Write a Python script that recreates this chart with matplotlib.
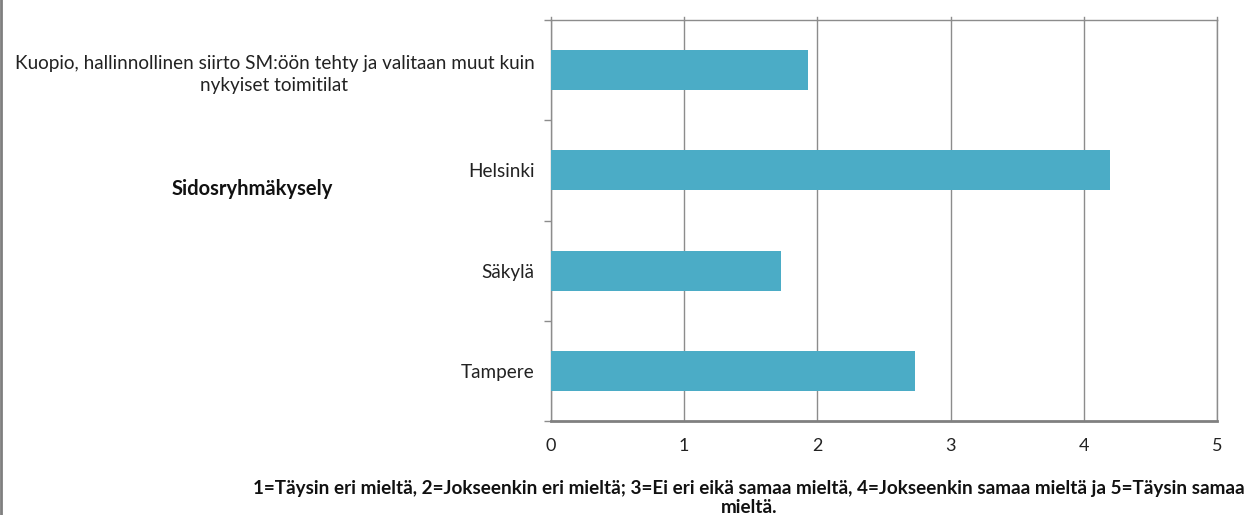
import numpy as np
import matplotlib.pyplot as plt
from matplotlib.lines import Line2D

plt.rcParams['font.family'] = ['Lato', 'DejaVu Sans']

# Data (top to bottom)
categories = ['Kuopio, hallinnollinen siirto SM:öön tehty ja valitaan muut kuin\nnykyiset toimitilat',
              'Helsinki', 'Säkylä', 'Tampere']
values = [1.93, 4.2, 1.73, 2.73]
group_label = 'Sidosryhmäkysely'
xticks = [0, 1, 2, 3, 4, 5]
footnote = ('1=Täysin eri mieltä, 2=Jokseenkin eri mieltä; 3=Ei eri eikä samaa mieltä, '
            '4=Jokseenkin samaa mieltä ja 5=Täysin samaa\nmieltä.')

bar_color = '#4BACC6'
grid_color = '#8c8c8c'

W, H = 1254, 515
fig = plt.figure(figsize=(W / 100, H / 100), dpi=100)
ax = fig.add_axes([551 / W, 1 - 421 / H, (1217 - 551) / W, (421 - 20) / H])

y = np.arange(len(categories))
ax.barh(y, values, height=0.4, color=bar_color, zorder=3)
ax.set_ylim(len(categories) - 0.5, -0.5)
ax.set_xlim(0, 5)

ax.set_xticks(xticks)
ax.set_xticklabels([str(t) for t in xticks], fontsize=13, color='#222222')
ax.tick_params(axis='x', length=0, pad=12)
ax.xaxis.grid(True, color=grid_color, linewidth=1, zorder=0)

# y tick marks at category boundaries, labels at category centres
ax.set_yticks(np.arange(-0.5, len(categories), 1.0))
ax.set_yticklabels([])
ax.tick_params(axis='y', length=5, color=grid_color, width=1)
ax.set_yticks(y, minor=True)
ax.set_yticklabels(categories, minor=True, fontsize=13.6, color='#222222',
                   multialignment='center', linespacing=1.4)
ax.tick_params(axis='y', which='minor', length=0, pad=12)

# small marks above the top edge at each gridline
for t in xticks:
    ax.plot([t, t], [-0.5, -0.53], color=grid_color, lw=1, clip_on=False)

for side in ['top', 'right', 'left']:
    ax.spines[side].set_color(grid_color)
    ax.spines[side].set_linewidth(1)
ax.spines['bottom'].set_color('#808080')
ax.spines['bottom'].set_linewidth(2)

fig.text(252 / W, 1 - 189 / H, group_label, fontsize=14.5, fontweight='bold',
         ha='center', va='center', color='#111111')

fig.text(749 / W, 1 - 498 / H, footnote, fontsize=13.6, fontweight='bold',
         ha='center', va='center', color='#111111', linespacing=1.15)

# image border at the left edge
fig.add_artist(Line2D([1 / W, 1 / W], [0, 1], color='#7f7f7f', lw=2,
                      transform=fig.transFigure))

fig.savefig('out.png', dpi=100)
